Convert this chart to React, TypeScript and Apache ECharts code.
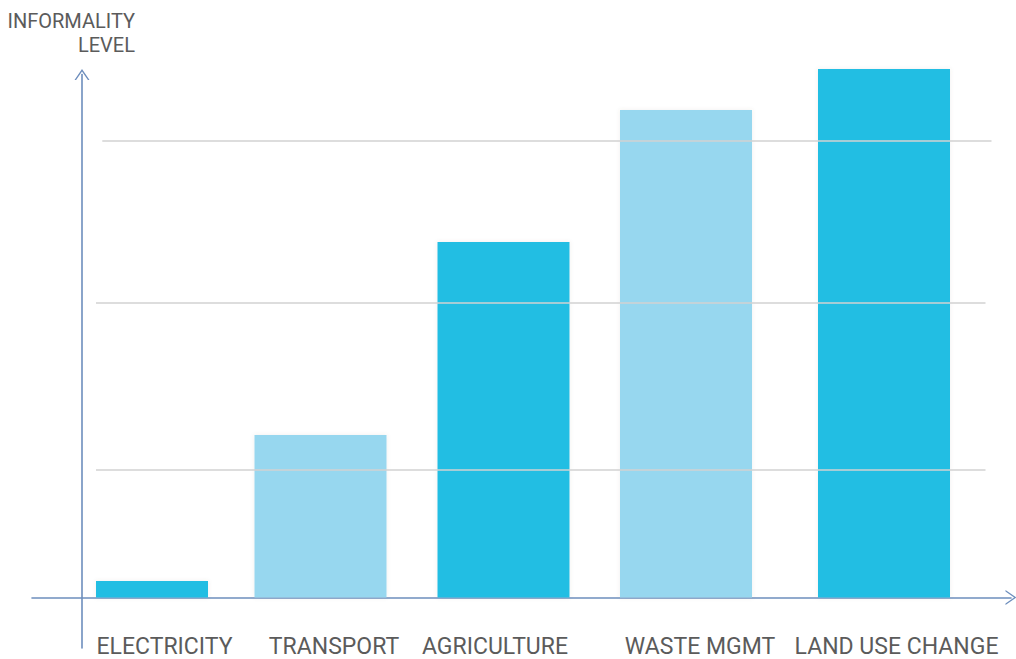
import React, { useEffect, useRef } from "react";
import * as echarts from "echarts";

// ---- data ----
const categories = ["ELECTRICITY", "TRANSPORT", "AGRICULTURE", "WASTE MGMT", "LAND USE CHANGE"];
const informality = [3.3, 32.5, 71.1, 97.5, 105.7];
const shade = ["dark", "light", "dark", "light", "dark"];
const referenceLevels = [25.5, 59, 91.4];

// ---- layout (axis units along x) ----
const slotX = [14.0, 47.7, 84.3, 120.8, 160.4];
const labelX = [16.5, 50.4, 82.6, 123.6, 162.9];
const refSpans = [
  [2.8, 180.7],
  [2.8, 180.7],
  [4.06, 181.9],
];

const DARK = "#22bee3";
const LIGHT = "#97d7ef";
const AXIS = "#6d8ebd";
const TEXT = "#5b5b5b";
const FONT = "Roboto, 'Noto Sans', sans-serif";
const CHEVRON = "path://M0,11 L7.5,0 L15,11 L13.4,11 L7.5,2.4 L1.6,11 Z";

export default function App() {
  const ref = useRef<HTMLDivElement>(null);
  useEffect(() => {
    if (!ref.current) return;
    const chart = echarts.init(ref.current, undefined, { renderer: "svg" });
    const itemOf = (i: number) => ({
      value: [slotX[i], informality[i]],
      itemStyle: { color: shade[i] === "dark" ? DARK : LIGHT },
    });
    const wideData = categories.map((_, i) => i).filter((i) => i !== 0).map(itemOf);
    const narrowData = [itemOf(0)];
    const barShadow = { shadowBlur: 4, shadowColor: "rgba(110,90,70,0.10)" };
    const xMin = -10;
    const xMax = 185.8;
    chart.setOption({
      animation: false,
      backgroundColor: "#ffffff",
      title: {
        text: "INFORMALITY\nLEVEL",
        left: 135,
        top: 9,
        padding: 0,
        textAlign: "right",
        textStyle: { color: TEXT, fontSize: 20, fontWeight: "normal", fontFamily: FONT, lineHeight: 24 },
      },
      grid: { left: 32, right: 5, top: 74.5, bottom: 11, containLabel: false, outerBoundsMode: "none" },
      xAxis: [
        {
          type: "value",
          min: xMin,
          max: xMax,
          axisLine: {
            show: true,
            onZero: true,
            symbol: ["none", CHEVRON],
            symbolSize: [15, 11],
            lineStyle: { color: AXIS, width: 1.6 },
          },
          axisTick: { show: false },
          splitLine: { show: false },
          axisLabel: {
            show: true,
            customValues: labelX,
            formatter: (v: number) => {
              const i = labelX.findIndex((x) => Math.abs(x - v) < 1e-6);
              return i >= 0 ? categories[i] : "";
            },
            color: TEXT,
            fontSize: 23,
            lineHeight: 23,
            fontFamily: FONT,
            margin: -13.5,
          },
        },
        { type: "value", min: xMin, max: xMax, show: false },
      ],
      yAxis: {
        type: "value",
        min: -10.1,
        max: 104.6,
        axisLine: {
          show: true,
          onZero: true,
          symbol: ["none", CHEVRON],
          symbolSize: [15, 11],
          lineStyle: { color: AXIS, width: 1.6 },
        },
        axisTick: { show: false },
        axisLabel: { show: false },
        splitLine: { show: false },
      },
      series: [
        {
          type: "line",
          data: [],
          z: 1,
          silent: true,
          markLine: {
            silent: true,
            symbol: ["none", "none"],
            label: { show: false },
            lineStyle: { color: "#d2d2d2", width: 1.6, type: "solid" },
            data: referenceLevels.map((y, i) => [
              { coord: [refSpans[i][0], y] },
              { coord: [refSpans[i][1], y] },
            ]),
          },
        },
        {
          type: "bar",
          xAxisIndex: 0,
          barWidth: 132,
          clip: false,
          z: 3,
          itemStyle: barShadow,
          data: wideData,
        },
        {
          type: "bar",
          xAxisIndex: 1,
          barWidth: 112,
          clip: false,
          z: 3,
          itemStyle: barShadow,
          data: narrowData,
        },
      ],
    });
    return () => chart.dispose();
  }, []);
  return (
    <div
      ref={ref}
      style={{ position: "fixed", left: 0, top: 0, width: 1016, height: 659, background: "#fff" }}
    />
  );
}
